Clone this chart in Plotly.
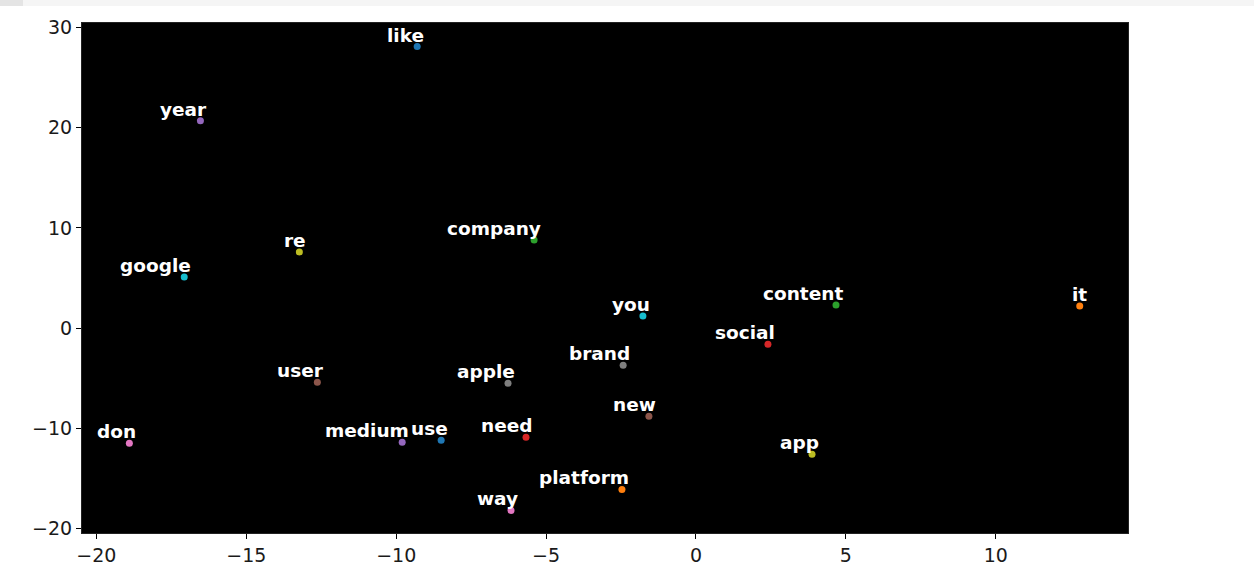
import plotly.graph_objects as go

words = ["like", "it", "content", "social", "year", "user", "don", "brand", "re", "google",
         "use", "platform", "company", "need", "medium", "new", "way", "apple", "app", "you"]
xs = [-9.3, 12.8, 4.67, 2.4, -16.53, -12.63, -18.9, -2.43, -13.23, -17.07,
      -8.5, -2.47, -5.4, -5.67, -9.8, -1.57, -6.17, -6.27, 3.87, -1.77]
ys = [28.1, 2.2, 2.3, -1.6, 20.7, -5.4, -11.5, -3.7, 7.6, 5.1,
      -11.2, -16.1, 8.8, -10.9, -11.4, -8.8, -18.2, -5.5, -12.6, 1.2]
palette = ["#1f77b4", "#ff7f0e", "#2ca02c", "#d62728", "#9467bd",
           "#8c564b", "#e377c2", "#7f7f7f", "#bcbd22", "#17becf"]
x_ticks = [-20, -15, -10, -5, 0, 5, 10]
y_ticks = [-20, -10, 0, 10, 20, 30]

W, H = 1254, 570
L, R, T, B = 82, 126, 23, 37

fig = go.Figure()
for i, (w, x, y) in enumerate(zip(words, xs, ys)):
    fig.add_trace(go.Scatter(x=[x], y=[y], mode="markers", name=w,
                             marker=dict(color=palette[i % 10], size=7, line=dict(width=0)),
                             showlegend=False))

annotations = []
for w, x, y in zip(words, xs, ys):
    annotations.append(dict(x=x, y=y, xref="x", yref="y", text=w, showarrow=False,
                            xanchor="right", yanchor="bottom", xshift=9, yshift=-1,
                            font=dict(family="DejaVu Sans", size=18.5, color="white", weight="bold")))

pw = W - L - R
ph = H - T - B
def px_x(p):
    return (p - L) / pw
def px_y(p):
    return (H - B - p) / ph

shapes = [
    dict(type="rect", xref="paper", yref="paper", x0=px_x(0), x1=px_x(W), y0=px_y(6), y1=px_y(0),
         fillcolor="#f5f5f5", line=dict(width=0), layer="below"),
    dict(type="rect", xref="paper", yref="paper", x0=px_x(0), x1=px_x(23), y0=px_y(6), y1=px_y(0),
         fillcolor="#e4e4e4", line=dict(width=0), layer="below"),
]

def fmt(v):
    return ("\u2212%d" % -v) if v < 0 else str(v)

fig.update_layout(
    width=W, height=H, autosize=False,
    margin=dict(l=L, r=R, t=T, b=B, pad=0),
    paper_bgcolor="white", plot_bgcolor="black",
    annotations=annotations, shapes=shapes,
    font=dict(family="DejaVu Sans", size=19, color="black"),
)
fig.update_xaxes(range=[-20.48, 14.41], tickvals=x_ticks, ticktext=[fmt(v) for v in x_ticks],
                 showgrid=False, zeroline=False, ticks="outside", ticklen=5, tickcolor="black",
                 showline=True, linecolor="#222", mirror=True, automargin=False,
                 tickfont=dict(family="DejaVu Sans", size=19, color="#1a1a1a"))
fig.update_yaxes(range=[-20.45, 30.45], tickvals=y_ticks, ticktext=[fmt(v) for v in y_ticks],
                 showgrid=False, zeroline=False, ticks="outside", ticklen=5, tickcolor="black",
                 showline=True, linecolor="#222", mirror=True, automargin=False,
                 tickfont=dict(family="DejaVu Sans", size=19, color="#1a1a1a"))

fig.write_html("out.html")
